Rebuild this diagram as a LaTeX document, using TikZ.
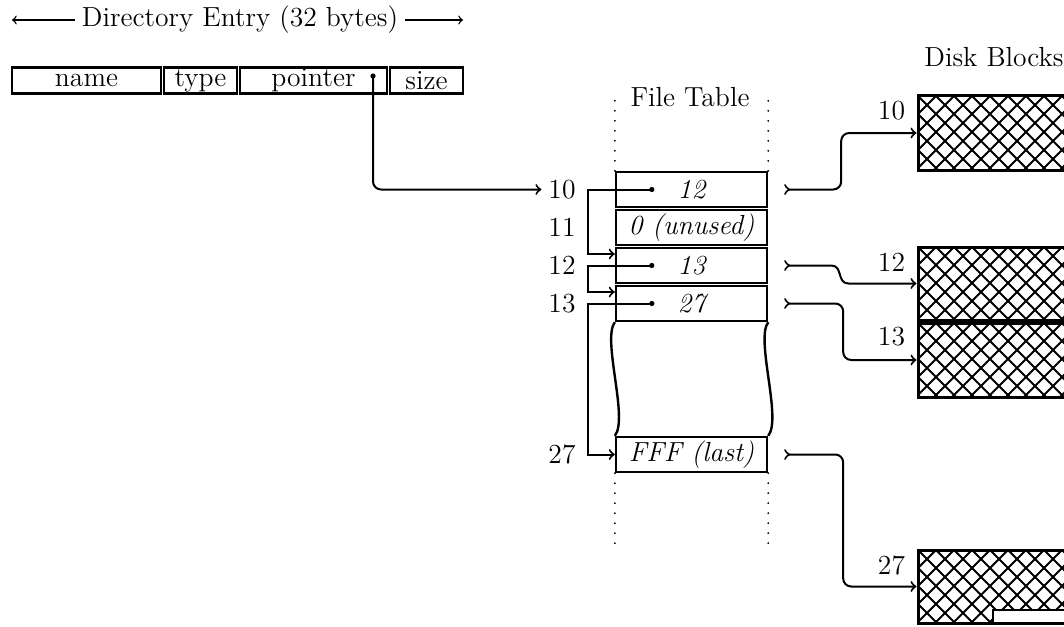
\documentclass[tikz,border=0pt]{standalone}
\usepackage{fontspec}
\usetikzlibrary{calc}
\begin{document}
\begin{tikzpicture}[x=0.5pt,y=-0.5pt,
  every node/.style={font=\fontsize{13.8}{16}\selectfont},
  cell/.style={draw, line width=1.2pt, minimum height=13pt, inner sep=0pt},
  row/.style={draw, line width=1.2pt, minimum width=75.5pt, minimum height=17.5pt, inner sep=0pt, font=\fontsize{13.8}{16}\selectfont\itshape},
  block/.style={draw, line width=1.5pt, minimum width=86pt, minimum height=37pt, inner sep=0pt,
    path picture={\foreach \k in {-6,...,14}{
      \draw[line width=1pt] ($(path picture bounding box.north west)+({9pt*\k},0pt)$) -- ++(40pt,-40pt);
      \draw[line width=1pt] ($(path picture bounding box.north west)+({9pt*\k},0pt)$) -- ++(-40pt,-40pt);}}},
  conn/.style={line width=1pt},
  thinconn/.style={line width=0.7pt},
  dots/.style={line width=1pt, line cap=round, dash pattern=on 0pt off 5pt},
  wave/.style={line width=1.2pt}
]
\useasboundingbox (0,0) rectangle (1064,626);
\clip (0,0) rectangle (1064,626);

% Directory entry
\node (title) at (240,20) {Directory Entry (32 bytes)};
\coordinate (tl) at (12,20);
\coordinate (tr) at (463,20);
\draw[thinconn,->] (title.west) -- (tl);
\draw[thinconn,->] (title.east) -- (tr);

\node[cell, minimum width=74.5pt] (name) at (86.5,80.5) {name};
\node[cell, minimum width=36.5pt] (type) at (200.5,80.5) {type};
\node[cell, minimum width=73.5pt] (pointer) at (313.5,80.5) {pointer};
\node[cell, minimum width=36.5pt] (size) at (426.5,80.5) {size};
\coordinate (pdot) at (373,76);
\fill (pdot) circle (1.3pt);

% File table
\node at (690,97) {File Table};
\node[row] (r10) at (691.5,189.5) {12};
\node[row] (r11) at (691.5,227.5) {0 (unused)};
\node[row] (r12) at (691.5,265.5) {13};
\node[row] (r13) at (691.5,303.5) {27};
\node[row] (r27) at (691.5,454.5) {FFF (last)};

\draw[dots] (r10.north west) -- ++(0,-79);
\draw[dots] (r10.north east) -- ++(0,-79);
\draw[dots] (r27.south west) -- ++(0,77);
\draw[dots] (r27.south east) -- ++(0,77);

\draw[wave] (r13.south west) .. controls +(-13,17) and +(14,-17) .. (r27.north west);
\draw[wave] (r13.south east) .. controls +(-13,17) and +(14,-17) .. (r27.north east);

% row labels
\node (l10) at (562,189.5) {10};
\node (l11) at (562,227.5) {11};
\node (l12) at (562,265.5) {12};
\node (l13) at (562,303.5) {13};
\node (l27) at (562,454.5) {27};

% directory pointer
\draw[conn,->,rounded corners=4pt] (pdot) |- (l10.west);

% chain inside table
\coordinate (d10) at ($(r10.west)+(37,0)$);
\coordinate (d12) at ($(r12.west)+(37,0)$);
\coordinate (d13) at ($(r13.west)+(37,0)$);
\fill (d10) circle (1.3pt);
\fill (d12) circle (1.3pt);
\fill (d13) circle (1.3pt);
\draw[conn,->] (d10) -- ++(-64,0) |- ($(r12.west)+(0,-11.5)$);
\draw[conn,->] (d12) -- ++(-64,0) |- ($(r13.west)+(0,-11.5)$);
\draw[conn,->] (d13) -- ++(-64,0) |- (r27.west);

% disk blocks
\node at (994,57) {Disk Blocks};
\node[block] (b10) at (1004,133) {};
\node[block, minimum height=36.5pt] (b12) at (1004,283.5) {};
\node[block] (b13) at (1004,360) {};
\node[block, minimum height=36.5pt] (b27) at (1004,586.5) {};
\draw[line width=1pt, fill=white] (993,610) rectangle (1090,623);

\node (k10) at ($(b10.north west)+(-25,16.5)$) {10};
\node (k12) at ($(b12.north west)+(-25,16.5)$) {12};
\node (k13) at ($(b13.north west)+(-25,15.5)$) {13};
\node (k27) at ($(b27.north west)+(-25,16.5)$) {27};

% table to blocks
\coordinate (s10) at ($(r10.east)+(16,0)$);
\coordinate (s12) at ($(r12.east)+(16,0)$);
\coordinate (s13) at ($(r13.east)+(16,0)$);
\coordinate (s27) at ($(r27.east)+(16,0)$);
\draw[conn,>->,rounded corners=4pt] (s10) -- ++(57,0) |- (b10.west);
\draw[conn,>->] (s12) -- ++(47,0) .. controls +(12,0) and +(-12,0) .. ($(b12.west)+(-68,0)$) -- (b12.west);
\draw[conn,>->,rounded corners=4pt] (s13) -- ++(59,0) |- (b13.west);
\draw[conn,>->,rounded corners=4pt] (s27) -- ++(59,0) |- (b27.west);
\end{tikzpicture}
\end{document}
